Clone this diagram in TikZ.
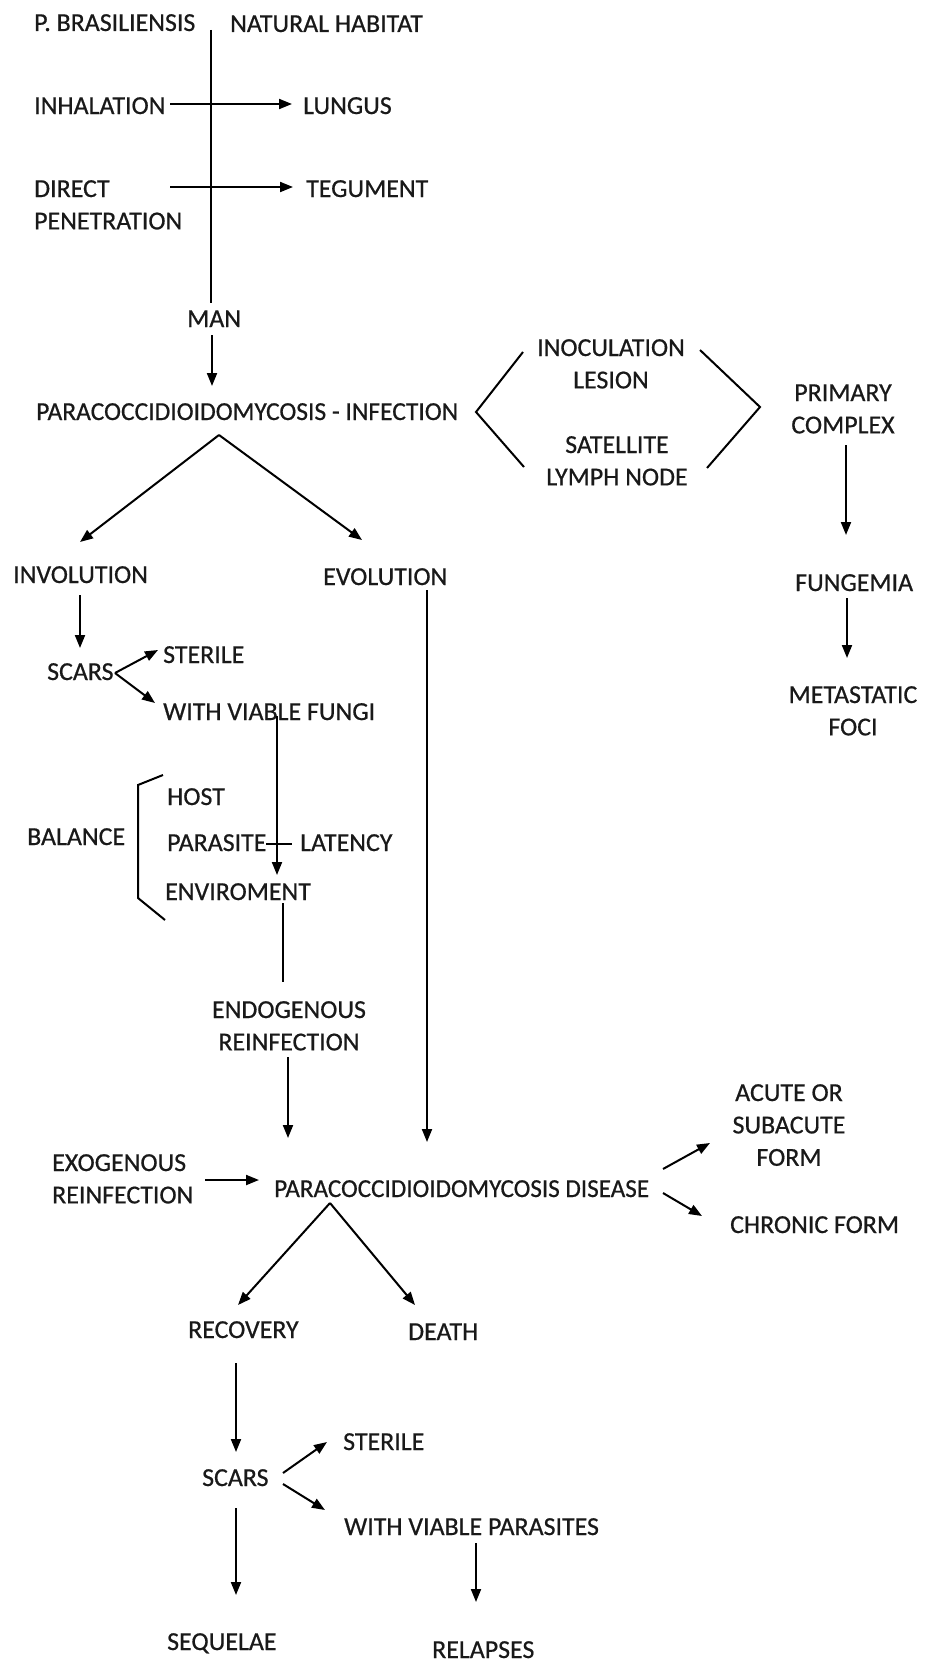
\documentclass[tikz,border=0pt]{standalone}
\usepackage{fontspec}
\setmainfont{Carlito}[FakeBold=0.6]
\usetikzlibrary{arrows.meta}
\newcommand{\mlc}[1]{\begin{tabular}[t]{@{}c@{}}#1\end{tabular}}
\newcommand{\mll}[1]{\begin{tabular}[t]{@{}l@{}}#1\end{tabular}}
\newcommand{\sqz}[2]{\scalebox{#1}[1]{#2}}
\begin{document}
\begin{tikzpicture}[x=1bp,y=-1bp,
  lbl/.style={font=\fontsize{26}{32.5}\selectfont, text=black!90, inner sep=0pt, text height=17bp, text depth=0pt, anchor=base west},
  mlb/.style={font=\fontsize{26}{32.5}\selectfont, text=black!90, inner sep=0pt, anchor=base},
  ln/.style={line width=2bp, black},
  arr/.style={ln, -{Triangle[length=13bp,width=10bp]}}]
\useasboundingbox[fill=white] (0,0) rectangle (924,1664);

% ---- text nodes ----
\node[lbl] (pb) at (34,31) {P. BRASILIENSIS};
\node[lbl] (nh) at (230,32) {NATURAL HABITAT};
\node[lbl] (inh) at (34,114) {INHALATION};
\node[lbl] (lung) at (303,114) {LUNGUS};
\node[mlb, anchor=base west] (dp) at (34,197) {\mll{DIRECT\\PENETRATION}};
\node[lbl] (teg) at (306,197) {TEGUMENT};
\node[lbl] (man) at (187,327) {MAN};
\node[lbl] (inf) at (36,420) {\sqz{0.985}{PARACOCCIDIOIDOMYCOSIS - INFECTION}};
\node[mlb] (inoc) at (611,356) {\mlc{INOCULATION\\LESION}};
\node[mlb] (sat) at (617,453) {\mlc{SATELLITE\\LYMPH NODE}};
\node[mlb] (prim) at (843,401) {\mlc{PRIMARY\\COMPLEX}};
\node[lbl] (fung) at (795,591) {FUNGEMIA};
\node[mlb] (meta) at (853,703) {\mlc{METASTATIC\\FOCI}};
\node[lbl] (invol) at (13,583) {INVOLUTION};
\node[lbl] (evol) at (323,585) {EVOLUTION};
\node[lbl] (scarsa) at (47,680) {SCARS};
\node[lbl] (stera) at (163,663) {STERILE};
\node[lbl] (wvf) at (163,720) {WITH VIABLE FUNGI};
\node[lbl] (host) at (167,805) {HOST};
\node[lbl] (bal) at (27,845) {BALANCE};
\node[lbl] (para) at (167,851) {PARASITE};
\node[lbl] (lat) at (300,851) {LATENCY};
\node[lbl] (env) at (165,900) {ENVIROMENT};
\node[mlb] (endo) at (289,1018) {\mlc{ENDOGENOUS\\REINFECTION}};
\node[mlb, anchor=base west] (exo) at (52,1171) {\mll{EXOGENOUS\\REINFECTION}};
\node[lbl] (dis) at (274,1197) {\sqz{0.97}{PARACOCCIDIOIDOMYCOSIS DISEASE}};
\node[mlb] (acute) at (789,1101) {\mlc{ACUTE OR\\SUBACUTE\\FORM}};
\node[lbl] (chron) at (730,1233) {CHRONIC FORM};
\node[lbl] (rec) at (188,1338) {RECOVERY};
\node[lbl] (death) at (408,1340) {DEATH};
\node[lbl] (scarsb) at (202,1486) {SCARS};
\node[lbl] (sterb) at (343,1450) {STERILE};
\node[lbl] (wvp) at (344,1535) {WITH VIABLE PARASITES};
\node[lbl] (seq) at (167,1650) {SEQUELAE};
\node[lbl] (rel) at (432,1658) {RELAPSES};

% ---- connector end points ----
\coordinate (vtop) at (211,30);
\coordinate (vbot) at (211,303);
\coordinate (inhS) at (170,104);  \coordinate (inhE) at (292,104);
\coordinate (dpS) at (170,187);   \coordinate (dpE) at (293,187);
\coordinate (manS) at (212,335);  \coordinate (manE) at (212,386);
\coordinate (infA) at (219,435);
\coordinate (involT) at (80,542); \coordinate (evolT) at (362,540);
\coordinate (lt1) at (523,352); \coordinate (lt2) at (476,412); \coordinate (lt3) at (524,467);
\coordinate (gt1) at (700,350); \coordinate (gt2) at (760,407); \coordinate (gt3) at (707,468);
\coordinate (primS) at (846,445); \coordinate (primE) at (846,535);
\coordinate (fungS) at (847,598); \coordinate (fungE) at (847,658);
\coordinate (involS) at (80,595); \coordinate (involE) at (80,648);
\coordinate (scaA) at (115,673);
\coordinate (sterAE) at (158,650); \coordinate (wvfE) at (155,703);
\coordinate (wvfS) at (277,716); \coordinate (wvfD) at (277,875);
\coordinate (latS) at (266,844); \coordinate (latE) at (292,844);
\coordinate (br1) at (163,775); \coordinate (br2) at (138,785); \coordinate (br3) at (138,898); \coordinate (br4) at (165,920);
\coordinate (envS) at (283,903); \coordinate (envE) at (283,982);
\coordinate (endoS) at (288,1057); \coordinate (endoE) at (288,1138);
\coordinate (evolS) at (427,590); \coordinate (evolE) at (427,1142);
\coordinate (exoS) at (205,1180); \coordinate (exoE) at (259,1180);
\coordinate (disU) at (663,1169); \coordinate (acuteE) at (710,1143);
\coordinate (disL) at (663,1193); \coordinate (chronE) at (702,1216);
\coordinate (disA) at (330,1203);
\coordinate (recE) at (238,1305); \coordinate (deathE) at (415,1305);
\coordinate (recS) at (236,1363); \coordinate (scarsbE) at (236,1452);
\coordinate (scbU) at (283,1473); \coordinate (sterbE) at (327,1442);
\coordinate (scbL) at (283,1484); \coordinate (wvpE) at (325,1510);
\coordinate (seqS) at (236,1508); \coordinate (seqE) at (236,1595);
\coordinate (relS) at (476,1543); \coordinate (relE) at (476,1602);

% ---- connectors ----
\draw[ln] (vtop) -- (vbot);
\draw[arr] (inhS) -- (inhE);
\draw[arr] (dpS) -- (dpE);
\draw[arr] (manS) -- (manE);
\draw[arr] (infA) -- (involT);
\draw[arr] (infA) -- (evolT);
\draw[ln] (lt1) -- (lt2) -- (lt3);
\draw[ln] (gt1) -- (gt2) -- (gt3);
\draw[arr] (primS) -- (primE);
\draw[arr] (fungS) -- (fungE);
\draw[arr] (involS) -- (involE);
\draw[arr] (scaA) -- (sterAE);
\draw[arr] (scaA) -- (wvfE);
\draw[arr] (wvfS) -- (wvfD);
\draw[ln] (latS) -- (latE);
\draw[ln] (br1) -- (br2) -- (br3) -- (br4);
\draw[ln] (envS) -- (envE);
\draw[arr] (endoS) -- (endoE);
\draw[arr] (evolS) -- (evolE);
\draw[arr] (exoS) -- (exoE);
\draw[arr] (disU) -- (acuteE);
\draw[arr] (disL) -- (chronE);
\draw[arr] (disA) -- (recE);
\draw[arr] (disA) -- (deathE);
\draw[arr] (recS) -- (scarsbE);
\draw[arr] (scbU) -- (sterbE);
\draw[arr] (scbL) -- (wvpE);
\draw[arr] (seqS) -- (seqE);
\draw[arr] (relS) -- (relE);
\end{tikzpicture}
\end{document}
